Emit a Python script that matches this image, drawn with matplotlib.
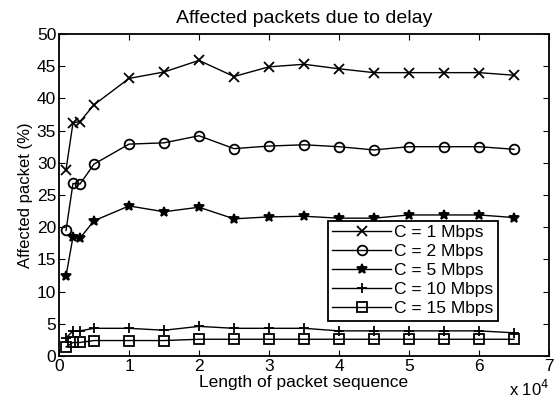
import numpy as np
import matplotlib
matplotlib.use("Agg")
import matplotlib.pyplot as plt

plt.rcParams['font.family'] = ['Liberation Sans', 'DejaVu Sans']

# packet sequence length
seq_len = [1000, 2000, 3000, 5000, 10000, 15000, 20000, 25000, 30000,
           35000, 40000, 45000, 50000, 55000, 60000, 65000]

c1 = [28.9, 36.2, 36.4, 39.0, 43.1, 44.1, 45.9, 43.4, 44.9,
      45.3, 44.6, 44.0, 44.0, 44.0, 44.0, 43.6]
c2 = [19.5, 26.8, 26.7, 29.8, 32.9, 33.1, 34.2, 32.2, 32.6,
      32.8, 32.5, 32.0, 32.5, 32.5, 32.5, 32.1]
c5 = [12.4, 18.5, 18.3, 21.0, 23.3, 22.4, 23.1, 21.3, 21.6,
      21.7, 21.4, 21.4, 21.9, 21.9, 21.9, 21.5]
c10 = [2.8, 3.9, 3.9, 4.3, 4.3, 4.0, 4.6, 4.3, 4.3,
       4.3, 3.9, 3.9, 3.9, 3.9, 3.9, 3.6]
c15 = [1.4, 2.1, 2.1, 2.4, 2.4, 2.4, 2.6, 2.6, 2.6,
       2.6, 2.6, 2.6, 2.6, 2.6, 2.6, 2.6]

series = [
    (c1, 'x', 'C = 1 Mbps'),
    (c2, 'o', 'C = 2 Mbps'),
    (c5, '*', 'C = 5 Mbps'),
    (c10, '+', 'C = 10 Mbps'),
    (c15, 's', 'C = 15 Mbps'),
]

fig = plt.figure(figsize=(5.54, 4.03), dpi=100)
ax = fig.add_axes([59 / 554, 1 - 356 / 403, (549 - 59) / 554, (356 - 34) / 403])

for vals, mk, lab in series:
    ax.plot(seq_len, vals, color='black', linewidth=1.0, marker=mk,
            markersize=7, markerfacecolor='none' if mk in ('o', 's') else 'black',
            markeredgecolor='black', markeredgewidth=1.3, label=lab)

ax.set_xlim(0, 70000)
ax.set_ylim(0, 50)
ax.set_xticks(np.arange(0, 70001, 10000))
ax.set_xticklabels([str(i) for i in range(8)])
ax.set_yticks(np.arange(0, 51, 5))
ax.tick_params(direction='in', top=True, right=True, length=4, labelsize=12.5, pad=2)
for sp in ax.spines.values():
    sp.set_linewidth(1.3)

ax.set_title('Affected packets due to delay', fontsize=14, pad=8)
ax.set_xlabel('Length of packet sequence', fontsize=12.5, labelpad=1)
ax.set_ylabel('Affected packet (%)', fontsize=12, labelpad=3)
ax.text(1.0, -0.125, r'x 10$^4$', transform=ax.transAxes, ha='right', va='baseline', fontsize=12)

leg = ax.legend(loc='upper left', bbox_to_anchor=((328 - 59) / 490, (356 - 221) / 322),
                fontsize=12.5, handlelength=3.4, handletextpad=0.15, borderpad=0.25,
                labelspacing=0.22, fancybox=False, framealpha=1, edgecolor='black',
                borderaxespad=0)
leg.get_frame().set_linewidth(1.3)

fig.savefig('out.png', dpi=100)
